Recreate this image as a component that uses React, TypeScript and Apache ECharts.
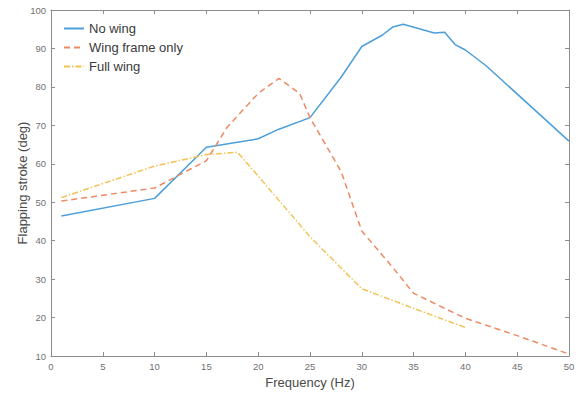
import React, { useEffect, useRef } from "react";
import * as echarts from "echarts";

const noWingX = [1, 10, 15, 20, 22, 25, 28, 30, 32, 33, 34, 37, 38, 39, 40, 42, 50];
const noWingY = [46.4, 51, 64.3, 66.5, 69, 72, 82.5, 90.5, 93.5, 95.6, 96.3, 94, 94.2, 91, 89.6, 85.5, 65.9];

const frameX = [1, 10, 15, 17, 20, 22, 24, 25, 28, 30, 33, 35, 40, 45, 50];
const frameY = [50.3, 53.7, 60.8, 69.5, 78.3, 82.2, 78.3, 72, 58, 42.5, 33, 26.3, 19.8, 15.3, 10.5];

const fullX = [1, 10, 15, 18, 20, 25, 30, 35, 40];
const fullY = [51.2, 59.4, 62.4, 63, 56.8, 41, 27.5, 22.4, 17.4];

const seriesNames = ["No wing", "Wing frame only", "Full wing"];

const zip = (xs: number[], ys: number[]) => xs.map((x, i) => [x, ys[i]]);

export default function App() {
  const ref = useRef<HTMLDivElement>(null);
  useEffect(() => {
    if (!ref.current) return;
    const chart = echarts.init(ref.current, null, { renderer: "svg" });
    const font = "'Liberation Sans', Arial, Helvetica, sans-serif";
    const axisColor = "#8c8c8c";
    const tickLabel = { color: "#707070", fontSize: 9.5, fontFamily: font };
    chart.setOption({
      animation: false,
      backgroundColor: "#fff",
      textStyle: { fontFamily: font },
      grid: { left: 51, right: 9, top: 10, bottom: 36, containLabel: false },
      legend: {
        orient: "vertical",
        left: 63,
        top: 22,
        padding: 0,
        itemWidth: 20,
        itemHeight: 10,
        itemGap: 6,
        data: seriesNames,
        itemStyle: { opacity: 0 },
        textStyle: { color: "#3a3a3a", fontSize: 13, fontFamily: font },
      },
      xAxis: [
        {
          type: "value",
          min: 0,
          max: 50,
          interval: 5,
          name: "Frequency (Hz)",
          nameLocation: "middle",
          nameGap: 20,
          nameMoveOverlap: false,
          nameTextStyle: { color: "#4a4a4a", fontSize: 13, fontFamily: font },
          axisLine: { show: true, lineStyle: { color: axisColor, width: 1 } },
          axisTick: { show: true, inside: true, length: 4, lineStyle: { color: axisColor } },
          axisLabel: { ...tickLabel, margin: 5 },
          splitLine: { show: false },
        },
        {
          type: "value",
          position: "top",
          min: 0,
          max: 50,
          interval: 5,
          axisLine: { show: true, onZero: false, lineStyle: { color: axisColor, width: 1 } },
          axisTick: { show: true, inside: true, length: 4, lineStyle: { color: axisColor } },
          axisLabel: { show: false },
          splitLine: { show: false },
        },
      ],
      yAxis: [
        {
          type: "value",
          min: 10,
          max: 100,
          interval: 10,
          name: "Flapping stroke (deg)",
          nameLocation: "middle",
          nameGap: 22,
          nameMoveOverlap: false,
          nameTextStyle: { color: "#4a4a4a", fontSize: 13, fontFamily: font },
          axisLine: { show: true, lineStyle: { color: axisColor, width: 1 } },
          axisTick: { show: true, inside: true, length: 4, lineStyle: { color: axisColor } },
          axisLabel: { ...tickLabel, margin: 5 },
          splitLine: { show: false },
        },
        {
          type: "value",
          position: "right",
          min: 10,
          max: 100,
          interval: 10,
          axisLine: { show: true, onZero: false, lineStyle: { color: axisColor, width: 1 } },
          axisTick: { show: true, inside: true, length: 4, lineStyle: { color: axisColor } },
          axisLabel: { show: false },
          splitLine: { show: false },
        },
      ],
      series: [
        {
          name: seriesNames[0],
          type: "line",
          data: zip(noWingX, noWingY),
          symbol: "none",
          lineStyle: { color: "#4d9fdb", width: 1.5, type: "solid" },
          itemStyle: { color: "#4d9fdb" },
        },
        {
          name: seriesNames[1],
          type: "line",
          data: zip(frameX, frameY),
          symbol: "none",
          lineStyle: { color: "#ec8a62", width: 1.5, type: [6, 4] },
          itemStyle: { color: "#ec8a62" },
        },
        {
          name: seriesNames[2],
          type: "line",
          data: zip(fullX, fullY),
          symbol: "none",
          lineStyle: { color: "#f2c257", width: 1.5, type: [6, 2, 1.5, 2] },
          itemStyle: { color: "#f2c257" },
        },
      ],
    });
    return () => chart.dispose();
  }, []);
  return (
    <div
      ref={ref}
      style={{ position: "fixed", left: 0, top: 0, width: 578, height: 394, background: "#fff" }}
    />
  );
}
